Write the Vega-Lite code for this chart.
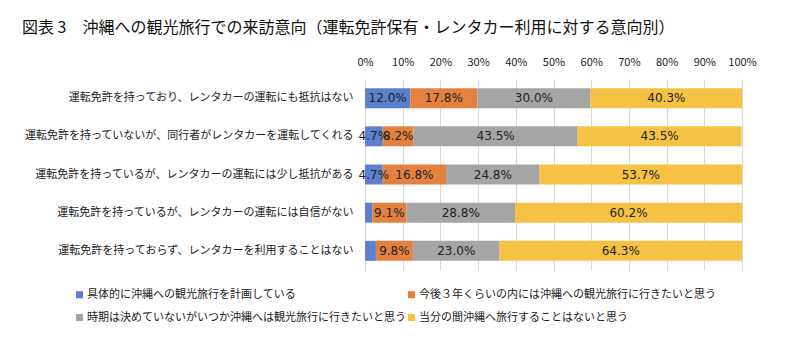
{
  "$schema": "https://vega.github.io/schema/vega-lite/v6.json",
  "width": 377,
  "height": 191,
  "autosize": {"type": "none"},
  "padding": {"left": 365, "top": 79, "right": 58, "bottom": 92},
  "background": "white",
  "title": {
    "text": "図表 3　沖縄への観光旅行での来訪意向（運転免許保有・レンタカー利用に対する意向別）",
    "anchor": "start",
    "frame": "group",
    "dx": -343,
    "offset": 20,
    "font": "Noto Sans CJK JP",
    "fontSize": 16,
    "fontWeight": "normal",
    "color": "#111111"
  },
  "data": {
    "values": [
      {"row": "運転免許を持っており、レンタカーの運転にも抵抗はない", "cat": "具体的に沖縄への観光旅行を計画している", "ord": 1, "v": 0.120},
      {"row": "運転免許を持っており、レンタカーの運転にも抵抗はない", "cat": "今後３年くらいの内には沖縄への観光旅行に行きたいと思う", "ord": 2, "v": 0.178},
      {"row": "運転免許を持っており、レンタカーの運転にも抵抗はない", "cat": "時期は決めていないがいつか沖縄へは観光旅行に行きたいと思う", "ord": 3, "v": 0.300},
      {"row": "運転免許を持っており、レンタカーの運転にも抵抗はない", "cat": "当分の間沖縄へ旅行することはないと思う", "ord": 4, "v": 0.403},
      {"row": "運転免許を持っていないが、同行者がレンタカーを運転してくれる", "cat": "具体的に沖縄への観光旅行を計画している", "ord": 1, "v": 0.047},
      {"row": "運転免許を持っていないが、同行者がレンタカーを運転してくれる", "cat": "今後３年くらいの内には沖縄への観光旅行に行きたいと思う", "ord": 2, "v": 0.082},
      {"row": "運転免許を持っていないが、同行者がレンタカーを運転してくれる", "cat": "時期は決めていないがいつか沖縄へは観光旅行に行きたいと思う", "ord": 3, "v": 0.435},
      {"row": "運転免許を持っていないが、同行者がレンタカーを運転してくれる", "cat": "当分の間沖縄へ旅行することはないと思う", "ord": 4, "v": 0.435},
      {"row": "運転免許を持っているが、レンタカーの運転には少し抵抗がある", "cat": "具体的に沖縄への観光旅行を計画している", "ord": 1, "v": 0.047},
      {"row": "運転免許を持っているが、レンタカーの運転には少し抵抗がある", "cat": "今後３年くらいの内には沖縄への観光旅行に行きたいと思う", "ord": 2, "v": 0.168},
      {"row": "運転免許を持っているが、レンタカーの運転には少し抵抗がある", "cat": "時期は決めていないがいつか沖縄へは観光旅行に行きたいと思う", "ord": 3, "v": 0.248},
      {"row": "運転免許を持っているが、レンタカーの運転には少し抵抗がある", "cat": "当分の間沖縄へ旅行することはないと思う", "ord": 4, "v": 0.537},
      {"row": "運転免許を持っているが、レンタカーの運転には自信がない", "cat": "具体的に沖縄への観光旅行を計画している", "ord": 1, "v": 0.019},
      {"row": "運転免許を持っているが、レンタカーの運転には自信がない", "cat": "今後３年くらいの内には沖縄への観光旅行に行きたいと思う", "ord": 2, "v": 0.091},
      {"row": "運転免許を持っているが、レンタカーの運転には自信がない", "cat": "時期は決めていないがいつか沖縄へは観光旅行に行きたいと思う", "ord": 3, "v": 0.288},
      {"row": "運転免許を持っているが、レンタカーの運転には自信がない", "cat": "当分の間沖縄へ旅行することはないと思う", "ord": 4, "v": 0.602},
      {"row": "運転免許を持っておらず、レンタカーを利用することはない", "cat": "具体的に沖縄への観光旅行を計画している", "ord": 1, "v": 0.029},
      {"row": "運転免許を持っておらず、レンタカーを利用することはない", "cat": "今後３年くらいの内には沖縄への観光旅行に行きたいと思う", "ord": 2, "v": 0.098},
      {"row": "運転免許を持っておらず、レンタカーを利用することはない", "cat": "時期は決めていないがいつか沖縄へは観光旅行に行きたいと思う", "ord": 3, "v": 0.230},
      {"row": "運転免許を持っておらず、レンタカーを利用することはない", "cat": "当分の間沖縄へ旅行することはないと思う", "ord": 4, "v": 0.643}
    ]
  },
  "encoding": {
    "y": {
      "field": "row",
      "type": "nominal",
      "sort": null,
      "scale": {"paddingInner": 0.477, "paddingOuter": 0.24},
      "axis": {
        "title": null,
        "ticks": false,
        "domain": false,
        "labelPadding": 12,
        "labelFont": "Noto Sans CJK JP",
        "labelFontSize": 11,
        "labelColor": "#222222",
        "labelLimit": 400
      }
    },
    "x": {
      "field": "v",
      "type": "quantitative",
      "stack": "zero",
      "scale": {"domain": [0, 1], "nice": false},
      "axis": {
        "orient": "top",
        "title": null,
        "values": [0, 0.1, 0.2, 0.3, 0.4, 0.5, 0.6, 0.7, 0.8, 0.9, 1],
        "format": ".0%",
        "ticks": false,
        "domain": false,
        "labelOverlap": false,
        "labelBound": false,
        "labelFlush": false,
        "labelPadding": 12,
        "labelFont": "Noto Sans CJK JP",
        "labelFontSize": 11,
        "labelColor": "#222222",
        "grid": true,
        "gridColor": "#d9d9d9",
        "gridWidth": 1
      }
    },
    "order": {"field": "ord", "type": "quantitative"}
  },
  "layer": [
    {
      "mark": {"type": "bar", "clip": true},
      "encoding": {
        "color": {
          "field": "cat",
          "type": "nominal",
          "scale": {
            "domain": [
              "具体的に沖縄への観光旅行を計画している",
              "今後３年くらいの内には沖縄への観光旅行に行きたいと思う",
              "時期は決めていないがいつか沖縄へは観光旅行に行きたいと思う",
              "当分の間沖縄へ旅行することはないと思う"
            ],
            "range": ["#5B80CD", "#E5813F", "#A5A5A5", "#F5C243"]
          },
          "legend": {
            "title": null,
            "orient": "none",
            "legendX": -291,
            "legendY": 210,
            "direction": "horizontal",
            "columns": 2,
            "columnPadding": 0,
            "rowPadding": 11,
            "symbolType": "square",
            "symbolSize": 50,
            "symbolStrokeWidth": 0,
            "labelOffset": 2,
            "labelFont": "Noto Sans CJK JP",
            "labelFontSize": 11,
            "labelColor": "#222222",
            "labelLimit": 400
          }
        }
      }
    },
    {
      "mark": {"type": "text", "font": "DejaVu Sans", "fontSize": 12, "color": "#222222", "baseline": "middle", "align": "center"},
      "encoding": {
        "x": {"field": "v", "type": "quantitative", "stack": "zero", "bandPosition": 0.5},
        "text": {
          "field": "v",
          "type": "quantitative",
          "format": ".1%",
          "condition": {"test": "datum.v < 0.03", "value": ""}
        }
      }
    }
  ],
  "config": {"view": {"stroke": null}}
}
